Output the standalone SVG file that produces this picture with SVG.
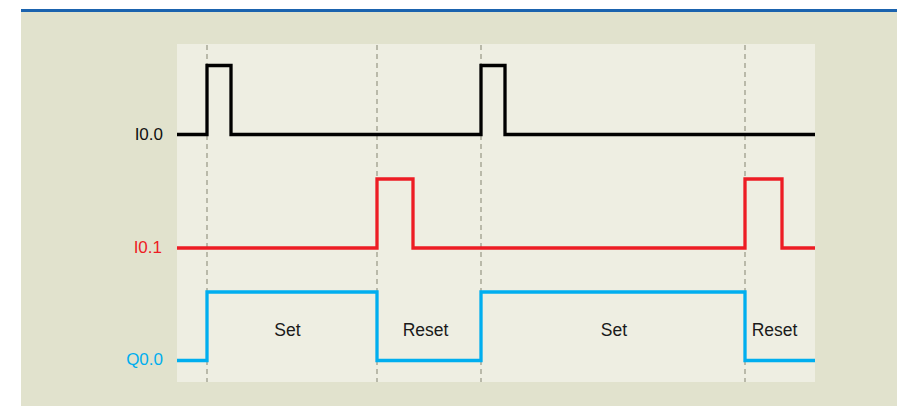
<svg xmlns="http://www.w3.org/2000/svg" width="897" height="406" viewBox="0 0 897 406">
<style>
.lbl{font-family:"Liberation Sans",Arial,sans-serif;font-size:17px;text-anchor:end}
.st{font-family:"Liberation Sans",Arial,sans-serif;font-size:17.5px;text-anchor:middle;fill:#1a1a1a}
.sig{fill:none;stroke-width:3.3;stroke-linejoin:miter;stroke-linecap:butt}
.grid{stroke:#9d9d8c;stroke-width:1.3;stroke-dasharray:5 4;fill:none}
</style>
<rect x="0" y="0" width="897" height="406" fill="#ffffff"/>
<rect x="21" y="12" width="876" height="394" fill="#e1e2cd"/>
<rect x="21" y="9" width="876" height="3" fill="#1b63ae"/>
<rect id="panel" x="177" y="44" width="638" height="338" fill="#eeeee2"/>
<g id="grid">
<line class="grid" x1="207" y1="45" x2="207" y2="382"/>
<line class="grid" x1="377" y1="45" x2="377" y2="382"/>
<line class="grid" x1="481" y1="45" x2="481" y2="382"/>
<line class="grid" x1="745" y1="45" x2="745" y2="382"/>
</g>
<g id="I0.0">
<polyline class="sig" stroke="#000000" points="177,134.5 207,134.5 207,65.5 231,65.5 231,134.5 481,134.5 481,65.5 505,65.5 505,134.5 815,134.5"/>
<text class="lbl" x="163" y="139.5" fill="#111111">I0.0</text>
</g>
<g id="I0.1">
<polyline class="sig" stroke="#ed1c24" points="177,248 377,248 377,179 413,179 413,248 745,248 745,179 782,179 782,248 815,248"/>
<text class="lbl" x="162" y="252.5" fill="#ed1c24">I0.1</text>
</g>
<g id="Q0.0">
<polyline class="sig" stroke="#00aeef" points="177,360.5 207,360.5 207,292 377,292 377,360.5 481,360.5 481,292 745,292 745,360.5 815,360.5"/>
<text class="lbl" x="163" y="364.5" fill="#00aeef">Q0.0</text>
</g>
<g id="states">
<text class="st" x="287.5" y="336">Set</text>
<text class="st" x="425.5" y="336">Reset</text>
<text class="st" x="614" y="336">Set</text>
<text class="st" x="774.5" y="336">Reset</text>
</g>
</svg>
